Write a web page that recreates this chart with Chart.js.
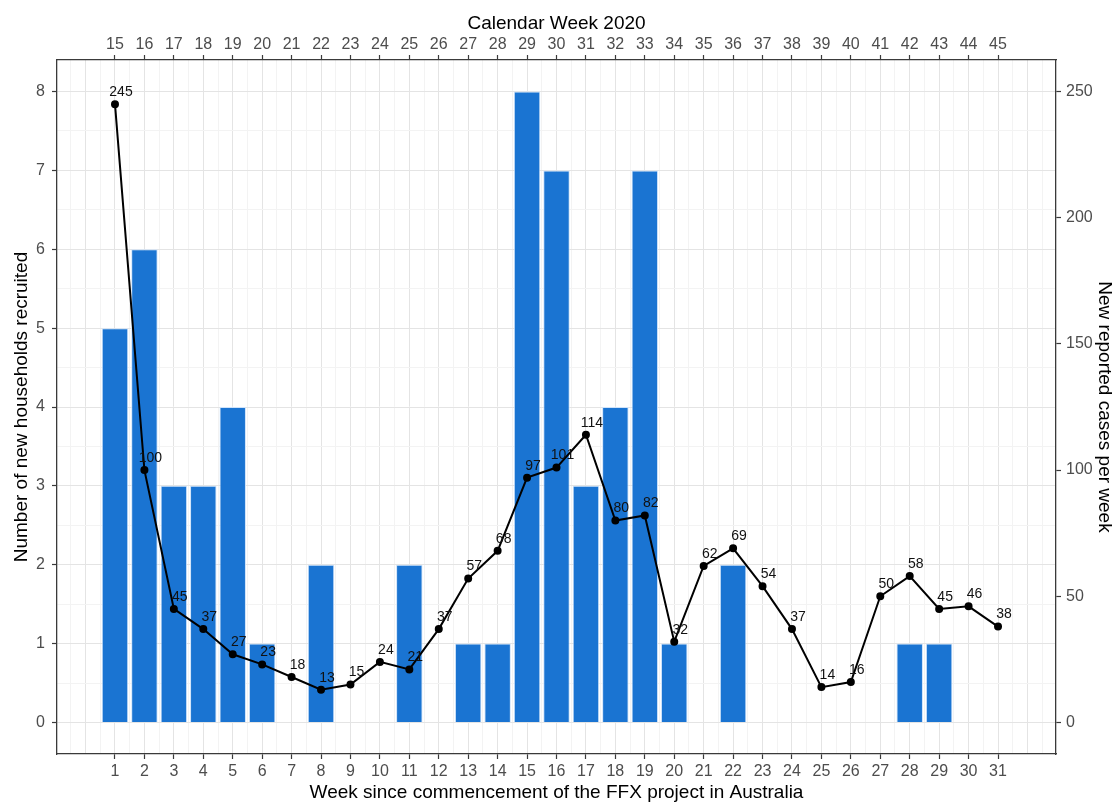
<!DOCTYPE html>
<html>
<head>
<meta charset="utf-8">
<script src="https://cdn.jsdelivr.net/npm/chart.js@4/dist/chart.umd.min.js"></script>
<style>
  html, body { margin: 0; padding: 0; background: #ffffff; }
  #c { display: block; }
</style>
</head>
<body>
<canvas id="c" width="1116" height="804"></canvas>
<script>
// ---- data ----
const weeks = [1,2,3,4,5,6,7,8,9,10,11,12,13,14,15,16,17,18,19,20,21,22,23,24,25,26,27,28,29,30,31];
const calendarWeeks = [15,16,17,18,19,20,21,22,23,24,25,26,27,28,29,30,31,32,33,34,35,36,37,38,39,40,41,42,43,44,45];
const households = [5,6,3,3,4,1,0,2,0,0,2,0,1,1,8,7,3,4,7,1,0,2,0,0,0,0,0,1,1,0,0];
const cases = [245,100,45,37,27,23,18,13,15,24,21,37,57,68,97,101,114,80,82,32,62,69,54,37,14,16,50,58,45,46,38];
const leftTicks = [0,1,2,3,4,5,6,7,8];
const rightTicks = [0,50,100,150,200,250];

const titleBottom = 'Week since commencement of the FFX project in Australia';
const titleTop = 'Calendar Week 2020';
const titleLeft = 'Number of new households recruited';
const titleRight = 'New reported cases per week';

Chart.defaults.font.family = '"Liberation Sans", Arial, sans-serif';

const MAJOR = '#e4e4e4';
const MINOR = '#f3f3f3';
const AXIS = '#3a3a3a';
const TICKTXT = '#4d4d4d';

const isWeek = v => weeks.includes(v);
const gridColor = ctx => {
  const v = ctx.tick ? ctx.tick.value : null;
  if (v === null) return 'rgba(0,0,0,0)';
  return Number.isInteger(v) ? MAJOR : MINOR;
};

const labelPlugin = {
  id: 'pointLabels',
  afterDatasetsDraw(chart) {
    const meta = chart.getDatasetMeta(1);
    const ctx = chart.ctx;
    ctx.save();
    ctx.font = '14px "Liberation Sans", Arial, sans-serif';
    ctx.fillStyle = '#111';
    ctx.textAlign = 'center';
    ctx.textBaseline = 'middle';
    meta.data.forEach((el, i) => {
      ctx.fillText(String(cases[i]), el.x + 6, el.y - 12);
    });
    ctx.restore();
  }
};

new Chart(document.getElementById('c'), {
  type: 'bar',
  data: {
    datasets: [
      {
        type: 'bar',
        label: 'households',
        data: weeks.map((w, i) => ({ x: w, y: households[i] })),
        xAxisID: 'x',
        yAxisID: 'y',
        backgroundColor: '#1a74d2',
        borderColor: '#cfe3fa',
        borderWidth: c => (c.raw && c.raw.y > 0 ? 1 : 0),
        borderSkipped: 'start',
        // tick spacing is 0.5 week, so 1.8 of it = 0.9 week wide bars
        barPercentage: 1.8,
        categoryPercentage: 1.0,
        order: 2
      },
      {
        type: 'line',
        label: 'cases',
        data: weeks.map((w, i) => ({ x: w, y: cases[i] })),
        xAxisID: 'x',
        yAxisID: 'y2',
        borderColor: '#000',
        borderWidth: 2,
        backgroundColor: '#000',
        pointBackgroundColor: '#000',
        pointBorderColor: '#000',
        pointRadius: 3,
        pointHoverRadius: 3,
        tension: 0,
        fill: false,
        order: 1
      }
    ]
  },
  options: {
    responsive: false,
    animation: false,
    devicePixelRatio: 1,
    layout: { padding: 0 },
    plugins: { legend: { display: false }, tooltip: { enabled: false } },
    scales: {
      x: {
        type: 'linear',
        position: 'bottom',
        min: -0.97,
        max: 32.97,
        offset: false,
        afterFit: s => { s.height = 50; },
        grid: {
          offset: false,
          color: gridColor,
          lineWidth: 1,
          drawTicks: true,
          tickLength: 5,
          tickWidth: 1.2,
          tickColor: c => (c.tick && isWeek(c.tick.value) ? AXIS : 'rgba(0,0,0,0)')
        },
        border: { display: true, color: AXIS, width: 1.3 },
        ticks: {
          stepSize: 0.5,
          includeBounds: false,
          autoSkip: false,
          maxRotation: 0,
          padding: 3,
          color: TICKTXT,
          font: { size: 16 },
          callback: v => (isWeek(v) ? String(weeks[weeks.indexOf(v)]) : '')
        },
        title: {
          display: true,
          text: titleBottom,
          color: '#000',
          font: { size: 19 },
          padding: { top: 0, bottom: 0 }
        }
      },
      x2: {
        type: 'linear',
        position: 'top',
        axis: 'x',
        min: -0.97,
        max: 32.97,
        offset: false,
        afterFit: s => { s.height = 60; },
        grid: {
          offset: false,
          drawOnChartArea: false,
          drawTicks: true,
          tickLength: 5,
          tickWidth: 1.2,
          tickColor: c => (c.tick && isWeek(c.tick.value) ? AXIS : 'rgba(0,0,0,0)')
        },
        border: { display: true, color: AXIS, width: 1.3 },
        ticks: {
          stepSize: 0.5,
          includeBounds: false,
          autoSkip: false,
          maxRotation: 0,
          padding: 1,
          color: TICKTXT,
          font: { size: 16 },
          callback: v => (isWeek(v) ? String(calendarWeeks[weeks.indexOf(v)]) : '')
        },
        title: {
          display: true,
          text: titleTop,
          color: '#000',
          font: { size: 19 },
          padding: { top: 12, bottom: 0 }
        }
      },
      y: {
        type: 'linear',
        position: 'left',
        min: -0.4,
        max: 8.4,
        afterFit: s => { s.width = 57; },
        grid: {
          color: gridColor,
          lineWidth: 1,
          drawTicks: true,
          tickLength: 5,
          tickWidth: 1.2,
          tickColor: c => (c.tick && leftTicks.includes(c.tick.value) ? AXIS : 'rgba(0,0,0,0)')
        },
        border: { display: true, color: AXIS, width: 1.3 },
        ticks: {
          stepSize: 0.5,
          includeBounds: false,
          autoSkip: false,
          padding: 7,
          color: TICKTXT,
          font: { size: 16 },
          callback: v => (leftTicks.includes(v) ? String(v) : '')
        },
        title: {
          display: true,
          text: titleLeft,
          color: '#000',
          font: { size: 19 },
          padding: { top: 10, bottom: 0 }
        }
      },
      y2: {
        type: 'linear',
        position: 'right',
        axis: 'y',
        min: -12.5,
        max: 262.5,
        afterFit: s => { s.width = 60; },
        grid: {
          drawOnChartArea: false,
          drawTicks: true,
          tickLength: 5,
          tickWidth: 1.2,
          tickColor: c => (c.tick && rightTicks.includes(c.tick.value) ? AXIS : 'rgba(0,0,0,0)')
        },
        border: { display: true, color: AXIS, width: 1.3 },
        ticks: {
          stepSize: 50,
          includeBounds: false,
          autoSkip: false,
          padding: 5,
          color: TICKTXT,
          font: { size: 16 },
          callback: v => (rightTicks.includes(v) ? String(v) : '')
        },
        title: {
          display: true,
          text: titleRight,
          color: '#000',
          font: { size: 19 },
          padding: { top: 0, bottom: 0 }
        }
      }
    }
  },
  plugins: [labelPlugin]
});
</script>
</body>
</html>
